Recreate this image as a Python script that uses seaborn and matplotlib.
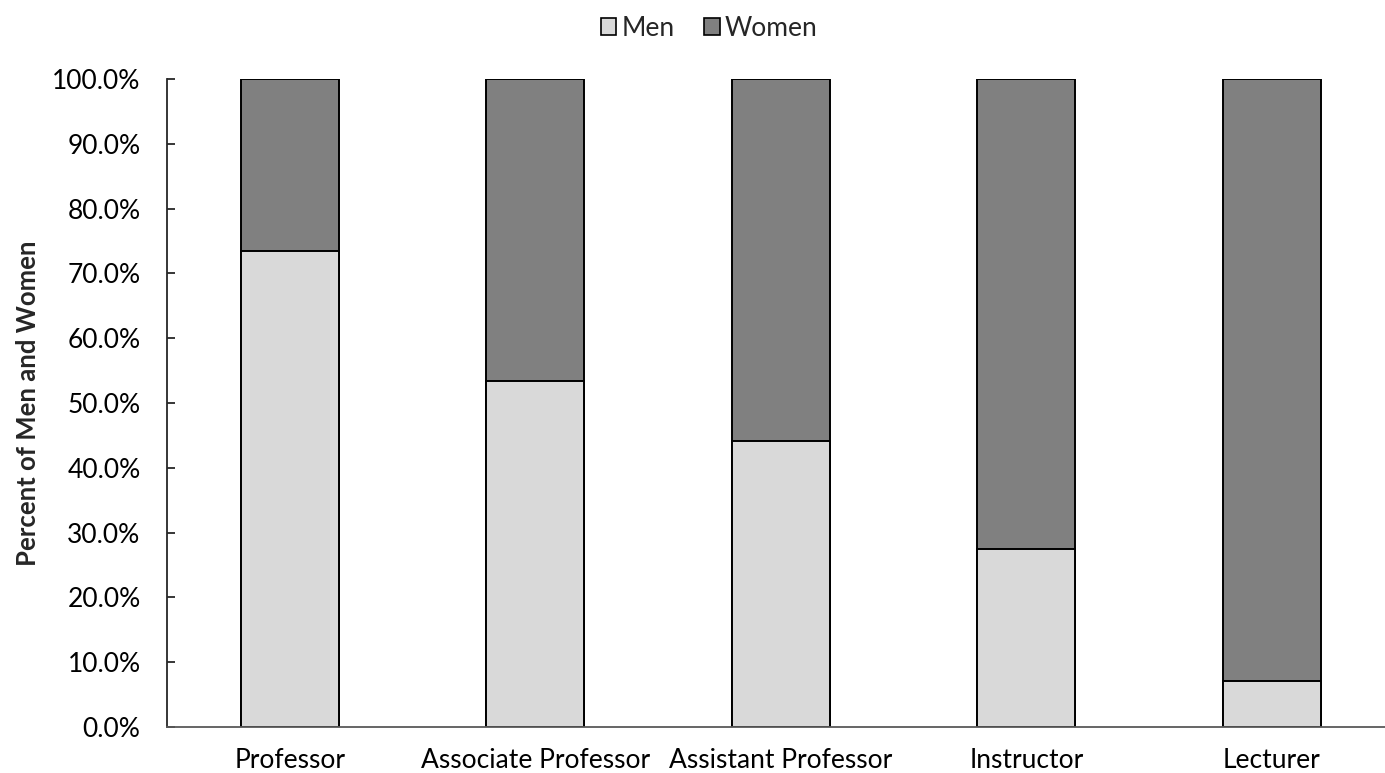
import matplotlib
matplotlib.use("Agg")
import matplotlib.pyplot as plt
import seaborn as sns
import pandas as pd
from matplotlib.ticker import FuncFormatter, MultipleLocator
from matplotlib.patches import Patch

categories = ["Professor", "Associate Professor", "Assistant Professor", "Instructor", "Lecturer"]
men = [73.4, 53.4, 44.1, 27.5, 7.1]
women = [26.6, 46.6, 55.9, 72.5, 92.9]
series_names = ["Men", "Women"]
colors = {"Men": "#d9d9d9", "Women": "#808080"}

sns.set_theme(style="white")
plt.rcParams['font.family'] = ['Lato', 'DejaVu Sans']

fig = plt.figure(figsize=(13.85, 7.73), dpi=100)
ax = fig.add_axes([167/1385, 46/773, 1227.5/1385, 648/773])

df = pd.DataFrame({"cat": categories, "men": men,
                   "total": [m + w for m, w in zip(men, women)]})

sns.barplot(data=df, x="cat", y="total", color=colors["Women"], saturation=1,
            width=0.4, edgecolor="black", linewidth=1.4, ax=ax)
sns.barplot(data=df, x="cat", y="men", color=colors["Men"], saturation=1,
            width=0.4, edgecolor="black", linewidth=1.4, ax=ax)

ax.set_xlim(-0.5, 4.5)
ax.set_ylim(0, 100)
ax.yaxis.set_major_locator(MultipleLocator(10))
ax.yaxis.set_major_formatter(FuncFormatter(lambda v, p: f"{v:.1f}%"))
ax.set_xlabel("")
ax.set_ylabel("Percent of Men and Women", fontsize=18.5, fontweight="bold", labelpad=9)

for s in ["top", "right"]:
    ax.spines[s].set_visible(False)
ax.spines["left"].set_color("#262626")
ax.spines["left"].set_linewidth(1.3)
ax.spines["bottom"].set_color("#595959")
ax.spines["bottom"].set_linewidth(1.3)

ax.tick_params(axis="y", direction="in", length=6, width=1.3, color="#262626",
               left=True, labelsize=19, pad=19, labelcolor="black")
ax.tick_params(axis="x", length=0, labelsize=19, pad=15, labelcolor="black")

handles = [Patch(facecolor=colors[n], edgecolor="black", linewidth=1.2, label=n) for n in series_names]
fig.legend(handles=handles, loc="center", bbox_to_anchor=(0.512, 1 - 28/773), ncol=2,
           frameon=False, fontsize=19, handlelength=0.6, handleheight=0.6,
           handletextpad=0.2, columnspacing=1.1)

fig.savefig("out.png", dpi=100)
